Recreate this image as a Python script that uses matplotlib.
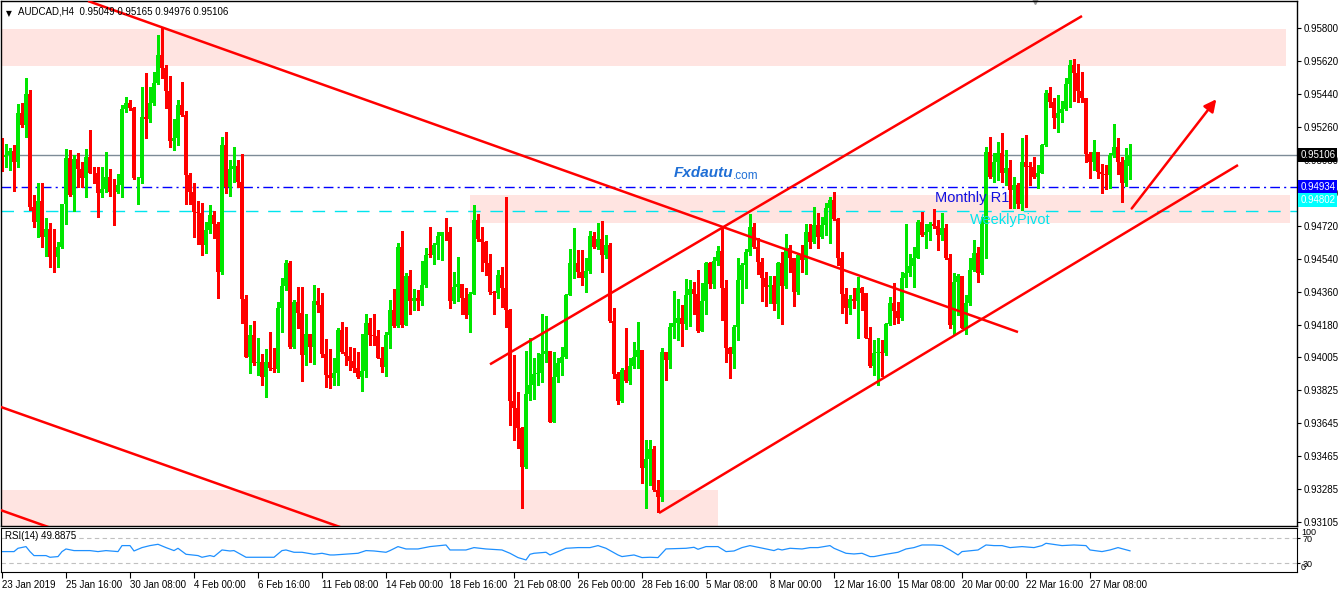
import numpy as np
import matplotlib.pyplot as plt
from matplotlib.patches import Rectangle
import matplotlib.transforms as mtransforms

plt.rcParams['font.family'] = ['Liberation Sans', 'DejaVu Sans']

# AUDCAD H4 candles, prices in points (1e-5)
first_open = 95107
last_open = 95049
closes = [
    95098, 95107, 95129, 95071, 95334, 95271, 95440, 94825, 94743, 94856,
    94662, 94703, 94552, 94549, 94603, 94840, 95092, 94889, 95083, 95029,
    94983, 95098, 95011, 95007, 94902, 94922, 94985, 94907, 94903, 94943,
    95358, 95389, 95365, 94980, 94983, 95316, 95303, 95389, 95498, 95652,
    95583, 95458, 95185, 95198, 95380, 95325, 94998, 94907, 94798, 94789,
    94616, 94698, 94780, 94731, 94467, 95162, 94931, 95031, 95047, 94962,
    94320, 94007, 94125, 93971, 93980, 93894, 93980, 93947, 93938, 94271,
    94392, 94516, 94062, 94307, 94243, 94016, 94129, 94062, 94311, 94289,
    94020, 93907, 93889, 93916, 94152, 94034, 94012, 93983, 93943, 93898,
    93929, 94189, 94125, 94122, 94002, 93952, 94125, 94262, 94176, 94607,
    94180, 94447, 94311, 94325, 94311, 94398, 94562, 94562, 94616, 94667,
    94685, 94685, 94311, 94389, 94403, 94329, 94234, 94347, 94752, 94649,
    94631, 94520, 94362, 94352, 94452, 94383, 94262, 93765, 93729, 93620,
    93407, 93803, 93852, 93911, 93916, 94022, 94038, 93649, 93898, 93971,
    94007, 94343, 94516, 94520, 94471, 94438, 94474, 94665, 94607, 94649,
    94562, 94616, 94203, 93911, 93765, 93934, 93874, 93958, 94007, 94043,
    93402, 93449, 93503, 93280, 93243, 94031, 93989, 94171, 94189, 94216,
    94183, 94343, 94374, 94347, 94147, 94311, 94516, 94402, 94529, 94583,
    94380, 94056, 94020, 94171, 94425, 94507, 94580, 94716, 94607, 94525,
    94438, 94389, 94398, 94292, 94516, 94394, 94598, 94543, 94362, 94562,
    94534, 94685, 94634, 94725, 94662, 94725, 94820, 94862, 94758, 94543,
    94347, 94274, 94322, 94311, 94380, 94352, 94111, 93958, 94025, 94031,
    94025, 94183, 94298, 94256, 94216, 94434, 94462, 94503, 94547, 94743,
    94671, 94689, 94729, 94722, 94671, 94711, 94547, 94180, 94416, 94449,
    94165, 94298, 94480, 94571, 94462, 94729, 95125, 94989, 95071, 95116,
    95007, 95034, 94916, 94943, 94838, 95071, 95043, 95043, 94989, 95007,
    95162, 95443, 95398, 95311, 95334, 95358, 95492, 95598, 95552, 95456,
    95416, 95111, 95067, 95122, 95016, 95003, 94998, 95107, 95152, 95071,
    94952, 95080, 95106]
highs = [
    95198, 95167, 95143, 95162, 95385, 95389, 95529, 95462, 94889, 94954,
    94954, 94762, 94734, 94703, 94631, 94840, 95140, 95134, 95107, 95120,
    95071, 95140, 95243, 95043, 95043, 95040, 95125, 95031, 94976, 95003,
    95380, 95425, 95407, 95371, 94989, 95480, 95556, 95480, 95562, 95762,
    95807, 95598, 95540, 95303, 95407, 95507, 95349, 95011, 94952, 94856,
    94843, 94743, 94834, 94803, 94743, 95203, 95231, 95080, 95149, 95080,
    95114, 94343, 94180, 94203, 94107, 94020, 94049, 94143, 94052, 94307,
    94434, 94534, 94529, 94316, 94389, 94389, 94238, 94129, 94398, 94380,
    94356, 94103, 94049, 93998, 94162, 94198, 94171, 94062, 94056, 94034,
    94129, 94238, 94220, 94238, 94152, 94058, 94143, 94316, 94374, 94625,
    94692, 94462, 94480, 94374, 94371, 94529, 94602, 94716, 94625, 94689,
    94689, 94765, 94716, 94471, 94552, 94403, 94380, 94362, 94834, 94783,
    94716, 94638, 94565, 94365, 94480, 94498, 94880, 94267, 94016, 93816,
    93625, 94038, 94107, 93998, 94025, 94238, 94231, 94038, 94034, 93998,
    94062, 94347, 94594, 94707, 94587, 94587, 94543, 94692, 94689, 94734,
    94747, 94671, 94625, 94274, 93925, 93943, 94165, 93998, 94089, 94194,
    94043, 93552, 93552, 93521, 93334, 94056, 94034, 94189, 94365, 94322,
    94289, 94430, 94425, 94416, 94480, 94407, 94521, 94521, 94552, 94612,
    94716, 94425, 94062, 94180, 94543, 94516, 94594, 94783, 94738, 94652,
    94547, 94471, 94449, 94449, 94525, 94580, 94674, 94616, 94547, 94574,
    94616, 94729, 94729, 94825, 94789, 94771, 94843, 94880, 94907, 94762,
    94580, 94380, 94343, 94380, 94443, 94389, 94352, 94171, 94098, 94107,
    94098, 94189, 94334, 94407, 94307, 94467, 94729, 94565, 94607, 94752,
    94798, 94729, 94740, 94812, 94752, 94789, 94729, 94565, 94462, 94456,
    94449, 94343, 94543, 94643, 94607, 94771, 95152, 95207, 95116, 95180,
    95225, 95134, 95080, 94989, 94952, 95198, 95216, 95071, 95098, 95052,
    95165, 95462, 95480, 95416, 95434, 95402, 95529, 95625, 95631, 95602,
    95562, 95420, 95125, 95189, 95125, 95056, 95052, 95116, 95274, 95202,
    95098, 95143, 95165]
lows = [
    95022, 95043, 95025, 94912, 95043, 95262, 95207, 94807, 94712, 94662,
    94607, 94558, 94498, 94471, 94498, 94598, 94731, 94885, 94803, 94934,
    94934, 94880, 95007, 94952, 94771, 94880, 94907, 94883, 94725, 94898,
    94880, 95340, 95352, 94976, 94840, 94956, 95202, 95289, 95380, 95492,
    95525, 95361, 95152, 95134, 95162, 95322, 94840, 94840, 94658, 94622,
    94562, 94574, 94680, 94652, 94329, 94456, 94898, 94885, 94962, 94934,
    94189, 94003, 93916, 93962, 93907, 93852, 93785, 93934, 93925, 93922,
    94143, 94371, 94056, 94052, 94162, 93874, 93962, 93980, 93965, 94252,
    94007, 93843, 93838, 93852, 93852, 94025, 93962, 93934, 93925, 93892,
    93820, 93898, 94071, 94071, 93998, 93925, 93903, 94052, 94171, 94171,
    94171, 94180, 94238, 94262, 94262, 94289, 94389, 94552, 94511, 94538,
    94534, 94643, 94274, 94298, 94311, 94238, 94220, 94143, 94347, 94638,
    94474, 94452, 94347, 94238, 94329, 94280, 94171, 93634, 93552, 93507,
    93180, 93398, 93771, 93776, 93852, 93871, 93980, 93649, 93649, 93871,
    93907, 93998, 94343, 94438, 94443, 94398, 94362, 94462, 94602, 94594,
    94471, 94543, 94198, 93892, 93747, 93761, 93871, 93856, 93943, 93943,
    93316, 93180, 93307, 93274, 93158, 93220, 93880, 93943, 94107, 94098,
    94067, 94158, 94176, 94238, 94140, 94147, 94238, 94380, 94380, 94507,
    94207, 93976, 93889, 93947, 94098, 94298, 94380, 94562, 94602, 94456,
    94311, 94285, 94298, 94262, 94216, 94183, 94383, 94471, 94285, 94347,
    94467, 94456, 94602, 94625, 94602, 94656, 94671, 94625, 94752, 94507,
    94243, 94189, 94238, 94271, 94107, 94262, 94107, 93952, 93907, 93852,
    93903, 94016, 94180, 94183, 94192, 94207, 94389, 94449, 94389, 94543,
    94667, 94602, 94643, 94707, 94589, 94643, 94540, 94162, 94125, 94234,
    94162, 94129, 94289, 94474, 94416, 94456, 94543, 94980, 94962, 94971,
    94962, 94943, 94816, 94820, 94820, 94807, 94825, 94943, 94983, 94925,
    95007, 95158, 95371, 95256, 95234, 95289, 95352, 95371, 95402, 95398,
    95398, 95067, 94980, 95025, 94983, 94898, 94922, 94929, 95098, 95001,
    94852, 94940, 94976]

# RSI(14) read at sampled bars
rsi_bar = [0, 3, 4, 6, 7, 8, 11, 12, 14, 15, 16, 18, 22, 24, 26, 29, 30, 32, 33, 35,
           37, 39, 41, 43, 44, 46, 49, 50, 52, 53, 54, 55, 57, 58, 60, 61, 65, 68, 70, 71,
           73, 75, 78, 80, 82, 83, 89, 91, 93, 96, 97, 99, 101, 102, 104, 107, 111, 112, 116, 118,
           121, 125, 127, 129, 131, 132, 133, 136, 137, 139, 141, 144, 147, 149, 151, 154, 155, 158, 160, 162,
           164, 166, 171, 173, 174, 176, 179, 181, 183, 185, 187, 191, 193, 194, 195, 197, 200, 202, 204, 207,
           208, 211, 213, 215, 217, 218, 221, 224, 226, 228, 230, 233, 235, 237, 239, 240, 244, 246, 248, 250,
           252, 255, 258, 260, 261, 265, 268, 271, 272, 275, 277, 279, 282]
rsi_val = [48.7, 48.7, 54.0, 56.7, 48.7, 42.3, 42.3, 39.6, 40.7, 48.7, 52.9, 50.3, 50.3, 48.7, 50.3, 48.7, 58.3, 58.3, 49.7, 55.1,
           58.3, 60.4, 55.1, 50.3, 54.0, 44.4, 42.3, 39.6, 42.3, 40.7, 46.0, 51.3, 49.7, 50.3, 43.3, 39.6, 39.6, 39.6, 50.3, 51.3,
           47.6, 47.6, 44.4, 46.0, 43.3, 43.3, 46.0, 50.3, 49.7, 47.6, 50.3, 56.7, 52.9, 52.9, 52.9, 56.7, 59.3, 51.3, 51.3, 55.1,
           52.9, 51.3, 46.0, 39.1, 35.3, 44.4, 46.0, 47.6, 43.3, 48.7, 54.0, 55.1, 55.1, 58.3, 54.0, 43.3, 40.7, 43.3, 39.1, 39.6,
           39.1, 53.0, 54.0, 55.6, 52.4, 56.7, 56.7, 48.7, 49.7, 55.1, 58.3, 52.9, 50.3, 52.9, 51.3, 54.0, 52.9, 55.1, 55.1, 58.3,
           54.0, 46.0, 44.9, 46.0, 40.7, 40.7, 44.4, 47.6, 52.9, 55.1, 59.3, 59.3, 58.3, 51.3, 43.3, 48.7, 51.3, 59.3, 58.3, 58.3,
           55.1, 56.7, 55.1, 58.3, 62.0, 58.3, 59.3, 58.3, 51.3, 48.7, 51.3, 55.1, 49.9]

date_ticks = [0, 16, 32, 48, 64, 80, 96, 112, 128, 144, 160, 176, 192, 208, 224, 240, 256, 272]
date_labels = ['23 Jan 2019', '25 Jan 16:00', '30 Jan 08:00', '4 Feb 00:00', '6 Feb 16:00',
               '11 Feb 08:00', '14 Feb 00:00', '18 Feb 16:00', '21 Feb 08:00', '26 Feb 00:00',
               '28 Feb 16:00', '5 Mar 08:00', '8 Mar 00:00', '12 Mar 16:00', '15 Mar 08:00',
               '20 Mar 00:00', '22 Mar 16:00', '27 Mar 08:00']
price_ticks = [0.95800, 0.95620, 0.95440, 0.95260, 0.95080, 0.94900, 0.94720, 0.94540,
               0.94360, 0.94180, 0.94005, 0.93825, 0.93645, 0.93465, 0.93285, 0.93105]

last_price = 0.95106
monthly_r1 = 0.94934
weekly_pivot = 0.94802

# supply / demand zones: bar from, bar to, price low, price high
zones = [(-1, 321, 0.95592, 0.95794),
         (117, 322, 0.94738, 0.94889),
         (-1, 179, 0.93000, 0.93280)]
# trend lines drawn on the chart: (bar, price) -> (bar, price)
trendlines = [((21.5, 0.95947), (254, 0.94141)),
              ((-0.5, 0.93734), (90, 0.93035)),
              ((-0.5, 0.93171), (15, 0.93051)),
              ((122, 0.93965), (270, 0.95865)),
              ((164.25, 0.93154), (309, 0.95052))]
arrow = ((282, 0.94803), (304, 0.95423))

c = np.array(closes) / 1e5
hi = np.array(highs) / 1e5
lo = np.array(lows) / 1e5
o = np.r_[first_open, closes[:-1]] / 1e5
o[-1] = last_open / 1e5
x = np.arange(len(c))

fig = plt.figure(figsize=(13.42, 5.91), dpi=100)
ax = fig.add_axes([1 / 1342, 1 - 526 / 591, 1296 / 1342, 525 / 591])
rx = fig.add_axes([1 / 1342, 1 - 572 / 591, 1296 / 1342, 44 / 591])

ax.set_xlim(-0.25, 323.75)
ax.set_ylim(0.93083, 0.95947)

for b0, b1, p0, p1 in zones:
    ax.add_patch(Rectangle((b0, p0), b1 - b0, p1 - p0, color='#ffe4e1', lw=0, zorder=0))

ax.axhline(last_price, color='#7d8b97', lw=1, zorder=1)
ax.axhline(monthly_r1, color='#0000ff', lw=1, ls=(0, (7, 3, 1.5, 3)), zorder=1)
ax.axhline(weekly_pivot, color='#00e5ee', lw=1, ls=(0, (9, 7)), zorder=1)

# candles
up = c > o
col = np.where(up, '#00e600', '#ff0000')
top = np.maximum(hi, np.maximum(o, c))
bot = np.minimum(lo, np.minimum(o, c))
ax.vlines(x, bot, top, colors=col, lw=0.8, zorder=2, antialiased=False)
body = np.maximum(np.abs(c - o), 0.00003)
ax.bar(x, body, bottom=np.minimum(o, c), width=0.78, color=col, lw=0, zorder=2, antialiased=False)

for (b0, p0), (b1, p1) in trendlines:
    ax.plot([b0, b1], [p0, p1], color='#ff0000', lw=1.8, zorder=3, solid_capstyle='butt')
ax.annotate('', xy=arrow[1], xytext=arrow[0],
            arrowprops=dict(arrowstyle='-|>', color='#ff0000', lw=1.8, mutation_scale=18), zorder=3)

# texts
ax.text(242.5, 0.94873, 'Monthly R1', color='#1010e0', fontsize=10.5,
        ha='center', va='center', zorder=4)
ax.text(252, 0.94752, 'WeeklyPivot', color='#00e5ee', fontsize=10.5,
        ha='center', va='center', zorder=4)
ax.text(168, 0.95006, 'Fxdautu', color='#1f6fd6', fontsize=11, fontweight='bold',
        fontstyle='italic', ha='left', va='center', zorder=4)
ax.text(182.6, 0.94995, '.com', color='#1f6fd6', fontsize=8.5,
        ha='left', va='center', zorder=4)
ax.text(0.004, 0.985, '\u25bc', transform=ax.transAxes, fontsize=5.5, va='top', ha='left',
        family='DejaVu Sans')
ax.text(0.013, 0.989, 'AUDCAD,H4  0.95049 0.95165 0.94976 0.95106', transform=ax.transAxes,
        fontsize=7, va='top', ha='left')
ax.plot([258.25], [1.0], marker='v', color='#999999', ms=5,
        transform=mtransforms.blended_transform_factory(ax.transData, ax.transAxes), clip_on=False)

ax.yaxis.tick_right()
ax.set_yticks(price_ticks)
ax.set_yticklabels(['%.5f' % p for p in price_ticks])
ax.tick_params(axis='y', labelsize=7, length=3, width=0.8, pad=2)
ax.set_xticks([])

trans = mtransforms.blended_transform_factory(ax.transAxes, ax.transData)
for val, yv, bg, fg in [(last_price, last_price, 'black', 'white'),
                        (monthly_r1, monthly_r1, '#0000ff', 'white'),
                        (weekly_pivot, 0.94861, '#00ffff', 'white')]:
    ax.text(1.0025, yv, '%.5f' % val, transform=trans, fontsize=7, color=fg, va='center', ha='left',
            bbox=dict(boxstyle='square,pad=0.2', fc=bg, ec='none'), clip_on=False, zorder=5)

for s in ax.spines.values():
    s.set_linewidth(1)

# RSI panel
rx.set_xlim(-0.25, 323.75)
rx.set_ylim(16, 86.5)
rx.axhline(70, color='#c0c0c0', lw=0.8, ls=(0, (4, 3)))
rx.axhline(30, color='#c0c0c0', lw=0.8, ls=(0, (4, 3)))
rx.plot(rsi_bar, rsi_val, color='#1e90ff', lw=0.9)
rx.text(0.003, 0.93, 'RSI(14) 49.8875', transform=rx.transAxes, fontsize=7, va='top', ha='left')
rx.yaxis.tick_right()
rx.set_yticks([70, 30])
rx.set_yticklabels(['70', '30'])
rx.tick_params(axis='y', labelsize=6.5, length=2, pad=2)
rtrans = mtransforms.blended_transform_factory(rx.transAxes, rx.transData)
rx.text(1.003, 86.5, '100', transform=rtrans, fontsize=6.5, va='top', ha='left', clip_on=False)
rx.text(1.003, 16, '0', transform=rtrans, fontsize=6.5, va='bottom', ha='left', clip_on=False)
rx.set_xticks(date_ticks)
rx.set_xticklabels(date_labels)
rx.tick_params(axis='x', labelsize=7, length=4, width=0.8, pad=2)
for lab in rx.get_xticklabels():
    lab.set_ha('left')

fig.savefig('out.png', dpi=100, facecolor='white')
